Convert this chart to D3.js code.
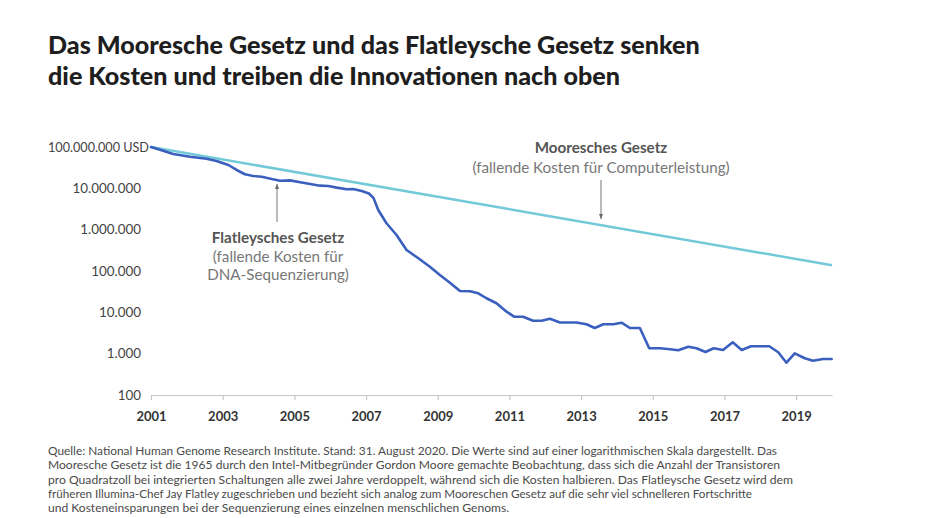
<!DOCTYPE html>
<html><head><meta charset="utf-8">
<script src="https://cdn.jsdelivr.net/npm/d3@7"></script>
<style>body{margin:0;background:#fff;} svg{display:block;}</style>
</head><body>
<svg id="c" width="940" height="518"></svg>
<script>
const titleLines = [
  "Das Mooresche Gesetz und das Flatleysche Gesetz senken",
  "die Kosten und treiben die Innovationen nach oben"
];
const yTickValues = [100000000, 10000000, 1000000, 100000, 10000, 1000, 100];
const xTickYears = [2001, 2003, 2005, 2007, 2009, 2011, 2013, 2015, 2017, 2019];

const flatleyYears = [2001.00,2001.25,2001.62,2002.09,2002.55,2002.83,2003.16,2003.39,2003.62,2003.85,
  2004.09,2004.37,2004.60,2004.88,2005.16,2005.44,2005.72,2005.95,2006.18,2006.46,
  2006.64,2006.88,2007.08,2007.21,2007.34,2007.57,2007.85,2008.13,2008.46,2008.78,
  2009.06,2009.34,2009.62,2009.90,2010.13,2010.36,2010.64,2010.92,2011.13,2011.38,
  2011.66,2011.90,2012.13,2012.41,2012.87,2013.15,2013.38,2013.62,2013.90,2014.13,
  2014.36,2014.64,2014.90,2015.20,2015.48,2015.71,2015.99,2016.22,2016.47,2016.70,
  2016.96,2017.23,2017.48,2017.74,2018.25,2018.50,2018.73,2018.96,2019.24,2019.47,2019.75,2019.99];
const flatleyCosts = [100000000,85700000,67800000,58300000,52100000,45900000,36700000,27800000,21900000,19900000,
  19100000,16800000,15300000,15600000,14000000,12700000,11600000,11400000,10400000,9500000,
  9600000,8600000,7500000,5800000,3000000,1430000,743000,322000,203000,127000,
  80000,52000,32800,32300,28900,21900,16600,10400,7850,7850,
  6280,6280,7000,5680,5680,5140,4180,5140,5140,5610,
  4180,4180,1350,1350,1280,1210,1470,1350,1100,1350,
  1230,1880,1230,1510,1510,1080,604,1020,773,676,743,743];

const mooreYears = [2001, 2020];
const mooreCosts = [100000000, 138000];

const flatleyLabel = ["Flatleysches Gesetz", "(fallende Kosten für", "DNA-Sequenzierung)"];
const mooreLabel = ["Mooresches Gesetz", "(fallende Kosten für Computerleistung)"];

const footnoteLines = [
  "Quelle: National Human Genome Research Institute. Stand: 31. August 2020. Die Werte sind auf einer logarithmischen Skala dargestellt. Das",
  "Mooresche Gesetz ist die 1965 durch den Intel-Mitbegründer Gordon Moore gemachte Beobachtung, dass sich die Anzahl der Transistoren",
  "pro Quadratzoll bei integrierten Schaltungen alle zwei Jahre verdoppelt, während sich die Kosten halbieren. Das Flatleysche Gesetz wird dem",
  "früheren Illumina-Chef Jay Flatley zugeschrieben und bezieht sich analog zum Mooreschen Gesetz auf die sehr viel schnelleren Fortschritte",
  "und Kosteneinsparungen bei der Sequenzierung eines einzelnen menschlichen Genoms."
];
const footnoteWidths = [729, 732, 745, 704, 461];

const svg = d3.select("#c");
const FONT = "Lato, 'Open Sans', sans-serif";

const x = d3.scaleLinear().domain([2001, 2020]).range([151, 832]);
const y = d3.scaleLog().domain([100, 100000000]).range([395, 147]);

const de = d3.formatLocale({decimal: ",", thousands: ".", grouping: [3], currency: ["", " USD"]});
const fmt = de.format(",d");

// Title
const tl = svg.append("g").selectAll("text").data(titleLines).join("text")
  .attr("x", 48).attr("y", (d, i) => 54 + i * 31)
  .attr("font-family", FONT).attr("font-weight", 900).attr("font-size", 22)
  .attr("fill", "#1e1e1e").text(d => d);
const w0 = tl.node().getComputedTextLength();
tl.attr("font-size", 22 * 652 / w0);

// Y axis labels
svg.append("g").selectAll("text").data(yTickValues).join("text")
  .attr("x", d => d === 100000000 ? 149 : 141)
  .attr("y", d => y(d)).attr("dy", "0.35em")
  .attr("text-anchor", "end")
  .attr("font-family", FONT).attr("font-size", 13.4).attr("fill", "#444")
  .attr("textLength", d => d === 100000000 ? 101 : null)
  .attr("lengthAdjust", "spacingAndGlyphs")
  .text(d => d === 100000000 ? fmt(d) + " USD" : fmt(d));

// X axis
const xAxis = d3.axisBottom(x).tickValues(xTickYears).tickFormat(d3.format("d"))
  .tickSize(5).tickPadding(12).tickSizeOuter(0);
const xg = svg.append("g").attr("transform", "translate(0,395)").call(xAxis);
xg.select(".domain").attr("stroke", "#c8c8c8").attr("stroke-width", 1.2);
xg.selectAll(".tick line").attr("stroke", "#c8c8c8").attr("stroke-width", 1.2);
xg.selectAll(".tick text").attr("font-family", FONT).attr("font-size", 13)
  .attr("font-weight", 700).attr("fill", "#333");

// Lines
const mooreData = mooreYears.map((yr, i) => ({year: yr, cost: mooreCosts[i]}));
const flatleyData = flatleyYears.map((yr, i) => ({year: yr, cost: flatleyCosts[i]}));
const line = d3.line().x(d => x(d.year)).y(d => y(d.cost));

svg.append("path").datum(mooreData).attr("d", line)
  .attr("fill", "none").attr("stroke", "#72c9d7").attr("stroke-width", 2.5);
svg.append("path").datum(flatleyData).attr("d", line)
  .attr("fill", "none").attr("stroke", "#3a5fbf").attr("stroke-width", 2.6)
  .attr("stroke-linejoin", "round").attr("stroke-linecap", "round");

// Arrow marker
svg.append("defs").append("marker").attr("id", "arr").attr("viewBox", "0 0 10 10")
  .attr("refX", 10).attr("refY", 5).attr("markerWidth", 5).attr("markerHeight", 5)
  .attr("orient", "auto-start-reverse")
  .append("path").attr("d", "M0,1 L10,5 L0,9 Z").attr("fill", "#666");

// Flatley annotation
svg.append("line").attr("x1", 277).attr("x2", 277).attr("y1", 222).attr("y2", 184)
  .attr("stroke", "#777").attr("stroke-width", 1).attr("marker-end", "url(#arr)");
svg.append("g").selectAll("text").data(flatleyLabel).join("text")
  .attr("x", 278).attr("y", (d, i) => 243 + i * 18.5)
  .attr("text-anchor", "middle").attr("font-family", FONT)
  .attr("font-size", 15.2).attr("font-weight", (d, i) => i === 0 ? 700 : 400)
  .attr("fill", (d, i) => i === 0 ? "#555" : "#777").text(d => d);

// Moore annotation
svg.append("line").attr("x1", 601).attr("x2", 601).attr("y1", 180).attr("y2", 219)
  .attr("stroke", "#777").attr("stroke-width", 1).attr("marker-end", "url(#arr)");
svg.append("g").selectAll("text").data(mooreLabel).join("text")
  .attr("x", 601).attr("y", (d, i) => 153 + i * 19.5)
  .attr("text-anchor", "middle").attr("font-family", FONT)
  .attr("font-size", 15.2).attr("font-weight", (d, i) => i === 0 ? 700 : 400)
  .attr("fill", (d, i) => i === 0 ? "#555" : "#777").text(d => d);

// Footnote
svg.append("g").selectAll("text").data(footnoteLines).join("text")
  .attr("x", 48).attr("y", (d, i) => 455 + i * 14.3)
  .attr("font-family", FONT).attr("font-size", 11).attr("fill", "#4a4a4a")
  .attr("textLength", (d, i) => footnoteWidths[i]).attr("lengthAdjust", "spacingAndGlyphs")
  .text(d => d);
</script>
</body></html>
